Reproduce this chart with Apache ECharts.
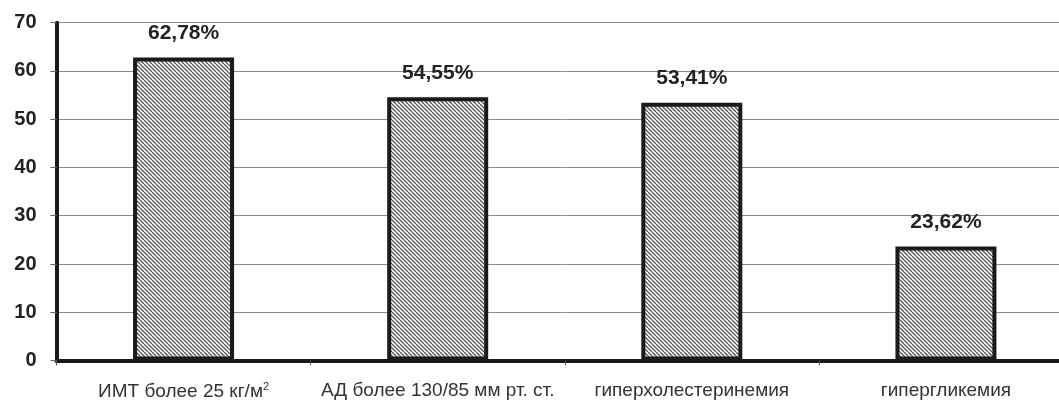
<!DOCTYPE html>
<html>
<head>
<meta charset="utf-8">
<script src="https://cdn.jsdelivr.net/npm/echarts@6/dist/echarts.min.js"></script>
<style>
html,body{margin:0;padding:0;background:#fff;overflow:hidden;width:1059px;height:405px;}
#chart{width:1073px;height:405px;}
</style>
</head>
<body>
<div id="chart"></div>
<script>
var categories = ['ИМТ более 25 кг/м{sup|2}', 'АД более 130/85 мм рт. ст.', 'гиперхолестеринемия', 'гипергликемия'];
var values = [62.78, 54.55, 53.41, 23.62];
var yTicks = [0, 10, 20, 30, 40, 50, 60, 70];

function makeHatch() {
  var s = 8;
  var c = document.createElement('canvas');
  c.width = s; c.height = s;
  var ctx = c.getContext('2d');
  ctx.fillStyle = '#ffffff';
  ctx.fillRect(0, 0, s, s);
  ctx.strokeStyle = '#5a5a5a';
  ctx.lineWidth = 1.3;
  for (var o = -2 * s; o <= 2 * s; o += 4) {
    ctx.beginPath();
    ctx.moveTo(o, 0);
    ctx.lineTo(o + s, s);
    ctx.stroke();
  }
  return c;
}

var chart = echarts.init(document.getElementById('chart'), null, {renderer: 'canvas'});
var font = '"Liberation Sans", Arial, sans-serif';
chart.setOption({
  animation: false,
  backgroundColor: '#ffffff',
  grid: {left: 56.5, right: 0, top: 22.7, bottom: 44.5, containLabel: false},
  xAxis: {
    type: 'category',
    data: categories,
    axisLine: {lineStyle: {color: '#1a1a1a', width: 4}},
    axisTick: {show: true, length: 5, lineStyle: {color: '#555', width: 1}},
    axisLabel: {
      color: '#333', fontSize: 19, fontFamily: font, margin: 21,
      interval: 0,
      rich: {sup: {fontSize: 11, fontFamily: font, color: '#333', padding: [0, 0, 10, 0]}}
    },
    splitLine: {show: false}
  },
  yAxis: {
    type: 'value',
    min: yTicks[0],
    max: yTicks[yTicks.length - 1],
    interval: 10,
    axisLine: {show: true, lineStyle: {color: '#1a1a1a', width: 4}},
    axisTick: {show: true, length: 6, lineStyle: {color: '#666', width: 1}},
    axisLabel: {color: '#222', fontSize: 20, fontWeight: 'bold', fontFamily: font, margin: 20},
    splitLine: {show: true, lineStyle: {color: '#8a8a8a', width: 1}}
  },
  series: [{
    type: 'bar',
    data: values,
    barWidth: 101,
    itemStyle: {
      color: {image: makeHatch(), repeat: 'repeat'},
      borderColor: '#1a1a1a',
      borderWidth: 4
    },
    label: {
      show: true,
      position: 'top',
      distance: 14,
      color: '#222',
      fontSize: 21,
      fontWeight: 'bold',
      fontFamily: font,
      formatter: function (p) { return p.value.toFixed(2).replace('.', ',') + '%'; }
    }
  }]
});
</script>
</body>
</html>
